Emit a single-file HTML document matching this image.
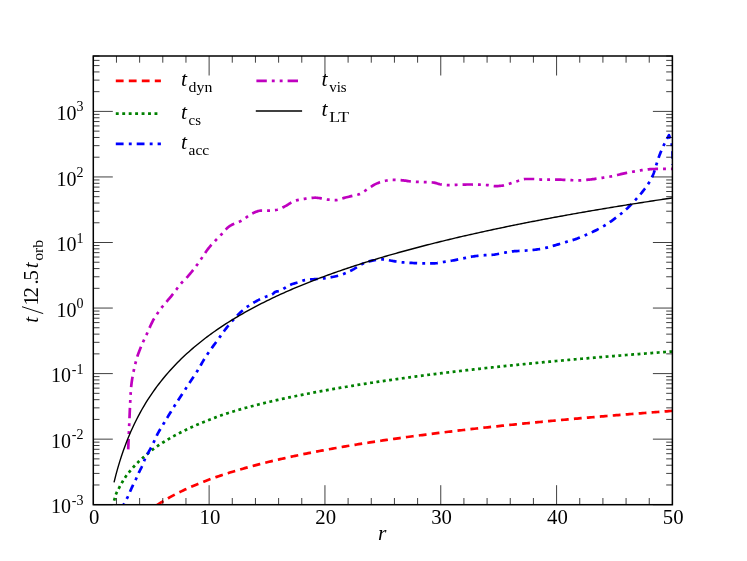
<!DOCTYPE html>
<html><head><meta charset="utf-8"><title>timescales</title>
<style>
html,body{margin:0;padding:0;background:#fff;}
svg{display:block;will-change:transform;}
text{font-family:"Liberation Serif",serif;fill:#000;}
</style></head>
<body>
<svg width="747" height="561" viewBox="0 0 747 561">
<rect width="747" height="561" fill="#fff"/>
<defs><clipPath id="c"><rect x="93.3" y="56.0" width="579.1" height="448.7"/></clipPath></defs>
<g clip-path="url(#c)" fill="none" stroke-linejoin="round">
<path d="M114.03 553.06 L115.90 549.38 L117.77 545.99 L119.63 542.85 L121.50 539.92 L123.37 537.19 L125.24 534.61 L127.10 532.19 L128.97 529.89 L130.84 527.71 L132.71 525.64 L134.57 523.66 L136.44 521.77 L138.31 519.96 L140.18 518.23 L142.04 516.56 L143.91 514.95 L145.78 513.40 L147.65 511.91 L149.51 510.47 L151.38 509.07 L153.25 507.72 L155.12 506.41 L156.98 505.14 L158.85 503.91 L160.72 502.71 L162.59 501.54 L164.45 500.40 L166.32 499.30 L168.19 498.22 L170.06 497.17 L171.92 496.14 L173.79 495.14 L175.66 494.16 L177.53 493.20 L179.39 492.27 L181.26 491.35 L183.13 490.45 L184.99 489.57 L186.86 488.71 L188.73 487.87 L190.60 487.04 L192.46 486.23 L194.33 485.43 L196.20 484.65 L198.07 483.88 L199.93 483.13 L201.80 482.39 L203.67 481.66 L205.54 480.94 L207.40 480.24 L209.27 479.54 L211.14 478.86 L213.01 478.19 L214.87 477.53 L216.74 476.88 L218.61 476.24 L220.48 475.61 L222.34 474.98 L224.21 474.37 L226.08 473.76 L227.95 473.17 L229.81 472.58 L231.68 472.00 L233.55 471.43 L235.42 470.86 L237.28 470.31 L239.15 469.76 L241.02 469.21 L242.89 468.68 L244.75 468.15 L246.62 467.62 L248.49 467.11 L250.36 466.59 L252.22 466.09 L254.09 465.59 L255.96 465.10 L257.83 464.61 L259.69 464.13 L261.56 463.65 L263.43 463.18 L265.30 462.71 L267.16 462.25 L269.03 461.80 L270.90 461.35 L272.77 460.90 L274.63 460.46 L276.50 460.02 L278.37 459.59 L280.24 459.16 L282.10 458.73 L283.97 458.31 L285.84 457.90 L287.70 457.48 L289.57 457.08 L291.44 456.67 L293.31 456.27 L295.17 455.87 L297.04 455.48 L298.91 455.09 L300.78 454.71 L302.64 454.32 L304.51 453.94 L306.38 453.57 L308.25 453.19 L310.11 452.83 L311.98 452.46 L313.85 452.10 L315.72 451.74 L317.58 451.38 L319.45 451.03 L321.32 450.67 L323.19 450.33 L325.05 449.98 L326.92 449.64 L328.79 449.30 L330.66 448.96 L332.52 448.63 L334.39 448.29 L336.26 447.96 L338.13 447.64 L339.99 447.31 L341.86 446.99 L343.73 446.67 L345.60 446.35 L347.46 446.04 L349.33 445.73 L351.20 445.42 L353.07 445.11 L354.93 444.80 L356.80 444.50 L358.67 444.20 L360.54 443.90 L362.40 443.60 L364.27 443.30 L366.14 443.01 L368.01 442.72 L369.87 442.43 L371.74 442.14 L373.61 441.86 L375.48 441.57 L377.34 441.29 L379.21 441.01 L381.08 440.73 L382.94 440.46 L384.81 440.18 L386.68 439.91 L388.55 439.64 L390.41 439.37 L392.28 439.10 L394.15 438.84 L396.02 438.57 L397.88 438.31 L399.75 438.05 L401.62 437.79 L403.49 437.53 L405.35 437.28 L407.22 437.02 L409.09 436.77 L410.96 436.52 L412.82 436.27 L414.69 436.02 L416.56 435.77 L418.43 435.52 L420.29 435.28 L422.16 435.04 L424.03 434.79 L425.90 434.55 L427.76 434.31 L429.63 434.08 L431.50 433.84 L433.37 433.61 L435.23 433.37 L437.10 433.14 L438.97 432.91 L440.84 432.68 L442.70 432.45 L444.57 432.22 L446.44 431.99 L448.31 431.77 L450.17 431.55 L452.04 431.32 L453.91 431.10 L455.78 430.88 L457.64 430.66 L459.51 430.44 L461.38 430.23 L463.25 430.01 L465.11 429.79 L466.98 429.58 L468.85 429.37 L470.72 429.16 L472.58 428.94 L474.45 428.73 L476.32 428.53 L478.18 428.32 L480.05 428.11 L481.92 427.91 L483.79 427.70 L485.65 427.50 L487.52 427.29 L489.39 427.09 L491.26 426.89 L493.12 426.69 L494.99 426.49 L496.86 426.30 L498.73 426.10 L500.59 425.90 L502.46 425.71 L504.33 425.51 L506.20 425.32 L508.06 425.13 L509.93 424.93 L511.80 424.74 L513.67 424.55 L515.53 424.36 L517.40 424.18 L519.27 423.99 L521.14 423.80 L523.00 423.61 L524.87 423.43 L526.74 423.25 L528.61 423.06 L530.47 422.88 L532.34 422.70 L534.21 422.52 L536.08 422.34 L537.94 422.16 L539.81 421.98 L541.68 421.80 L543.55 421.62 L545.41 421.44 L547.28 421.27 L549.15 421.09 L551.02 420.92 L552.88 420.74 L554.75 420.57 L556.62 420.40 L558.49 420.23 L560.35 420.06 L562.22 419.89 L564.09 419.72 L565.96 419.55 L567.82 419.38 L569.69 419.21 L571.56 419.04 L573.43 418.88 L575.29 418.71 L577.16 418.55 L579.03 418.38 L580.89 418.22 L582.76 418.05 L584.63 417.89 L586.50 417.73 L588.36 417.57 L590.23 417.41 L592.10 417.25 L593.97 417.09 L595.83 416.93 L597.70 416.77 L599.57 416.61 L601.44 416.46 L603.30 416.30 L605.17 416.14 L607.04 415.99 L608.91 415.83 L610.77 415.68 L612.64 415.52 L614.51 415.37 L616.38 415.22 L618.24 415.07 L620.11 414.91 L621.98 414.76 L623.85 414.61 L625.71 414.46 L627.58 414.31 L629.45 414.16 L631.32 414.02 L633.18 413.87 L635.05 413.72 L636.92 413.57 L638.79 413.43 L640.65 413.28 L642.52 413.14 L644.39 412.99 L646.26 412.85 L648.12 412.70 L649.99 412.56 L651.86 412.42 L653.73 412.27 L655.59 412.13 L657.46 411.99 L659.33 411.85 L661.20 411.71 L663.06 411.57 L664.93 411.43 L666.80 411.29 L668.67 411.15 L670.53 411.01 L672.40 410.87" stroke="#ff0000" stroke-width="2.7" stroke-dasharray="7.8 5.2"/>
<path d="M114.05 500.70 L114.40 499.55 L115.80 494.59 L117.20 491.43 L118.60 488.79 L120.00 486.20 L121.39 483.65 L122.79 481.21 L124.19 478.84 L125.59 476.68 L126.99 474.79 L128.39 473.00 L129.79 471.29 L131.18 469.64 L132.58 468.04 L133.98 466.49 L135.38 464.98 L136.78 463.51 L138.18 462.10 L139.58 460.76 L140.97 459.46 L142.37 458.21 L143.77 456.97 L145.17 455.75 L146.57 454.55 L147.97 453.37 L149.36 452.21 L150.76 451.08 L152.16 449.99 L153.56 448.93 L154.96 447.91 L156.36 446.91 L157.76 445.93 L159.15 444.98 L160.55 444.04 L161.95 443.13 L163.35 442.24 L164.75 441.36 L166.15 440.50 L167.55 439.66 L168.94 438.83 L170.34 438.02 L171.74 437.22 L173.14 436.44 L174.54 435.66 L175.94 434.90 L177.33 434.16 L178.73 433.42 L180.13 432.70 L181.53 431.99 L182.93 431.29 L184.33 430.60 L185.73 429.92 L187.12 429.25 L188.52 428.59 L189.92 427.94 L191.32 427.30 L192.72 426.67 L194.12 426.05 L195.51 425.43 L196.91 424.83 L198.31 424.23 L199.71 423.65 L201.11 423.07 L202.51 422.50 L203.91 421.94 L205.30 421.38 L206.70 420.83 L208.10 420.29 L209.50 419.75 L210.90 419.22 L212.30 418.68 L213.70 418.15 L215.09 417.63 L216.49 417.10 L217.89 416.58 L219.29 416.07 L220.69 415.56 L222.09 415.06 L223.48 414.57 L224.88 414.09 L226.28 413.62 L227.68 413.16 L229.08 412.72 L230.48 412.28 L231.88 411.85 L233.27 411.42 L234.67 411.00 L236.07 410.59 L237.47 410.18 L238.87 409.77 L240.27 409.37 L241.67 408.98 L243.06 408.59 L244.46 408.20 L245.86 407.82 L247.26 407.44 L248.66 407.06 L250.06 406.69 L251.45 406.32 L252.85 405.95 L254.25 405.58 L255.65 405.22 L257.05 404.87 L258.45 404.51 L259.85 404.16 L261.24 403.81 L262.64 403.47 L264.04 403.12 L265.44 402.78 L266.84 402.45 L268.24 402.12 L269.63 401.79 L271.03 401.46 L272.43 401.13 L273.83 400.81 L275.23 400.49 L276.63 400.18 L278.03 399.86 L279.42 399.55 L280.82 399.24 L282.22 398.93 L283.62 398.63 L285.02 398.33 L286.42 398.03 L287.82 397.73 L289.21 397.43 L290.61 397.14 L292.01 396.85 L293.41 396.56 L294.81 396.27 L296.21 395.99 L297.60 395.70 L299.00 395.42 L300.40 395.14 L301.80 394.87 L303.20 394.59 L304.60 394.31 L306.00 394.04 L307.39 393.77 L308.79 393.50 L310.19 393.23 L311.59 392.97 L312.99 392.70 L314.39 392.44 L315.78 392.18 L317.18 391.91 L318.58 391.66 L319.98 391.40 L321.38 391.14 L322.78 390.88 L324.18 390.63 L325.57 390.38 L326.97 390.12 L328.37 389.87 L329.77 389.62 L331.17 389.38 L332.57 389.13 L333.97 388.88 L335.36 388.64 L336.76 388.40 L338.16 388.15 L339.56 387.91 L340.96 387.68 L342.36 387.44 L343.75 387.20 L345.15 386.97 L346.55 386.73 L347.95 386.50 L349.35 386.27 L350.75 386.04 L352.15 385.81 L353.54 385.58 L354.94 385.36 L356.34 385.13 L357.74 384.91 L359.14 384.69 L360.54 384.46 L361.94 384.24 L363.33 384.02 L364.73 383.81 L366.13 383.59 L367.53 383.37 L368.93 383.16 L370.33 382.94 L371.72 382.73 L373.12 382.52 L374.52 382.31 L375.92 382.10 L377.32 381.89 L378.72 381.68 L380.12 381.47 L381.51 381.27 L382.91 381.06 L384.31 380.86 L385.71 380.65 L387.11 380.45 L388.51 380.25 L389.90 380.05 L391.30 379.85 L392.70 379.65 L394.10 379.45 L395.50 379.25 L396.90 379.05 L398.30 378.86 L399.69 378.66 L401.09 378.47 L402.49 378.27 L403.89 378.08 L405.29 377.89 L406.69 377.70 L408.09 377.51 L409.48 377.32 L410.88 377.13 L412.28 376.94 L413.68 376.76 L415.08 376.57 L416.48 376.39 L417.87 376.20 L419.27 376.02 L420.67 375.83 L422.07 375.65 L423.47 375.47 L424.87 375.29 L426.27 375.11 L427.66 374.93 L429.06 374.75 L430.46 374.58 L431.86 374.40 L433.26 374.22 L434.66 374.05 L436.06 373.87 L437.45 373.70 L438.85 373.53 L440.25 373.35 L441.65 373.18 L443.05 373.01 L444.45 372.84 L445.84 372.67 L447.24 372.50 L448.64 372.33 L450.04 372.17 L451.44 372.00 L452.84 371.83 L454.24 371.67 L455.63 371.50 L457.03 371.34 L458.43 371.17 L459.83 371.01 L461.23 370.85 L462.63 370.69 L464.02 370.52 L465.42 370.36 L466.82 370.20 L468.22 370.04 L469.62 369.88 L471.02 369.73 L472.42 369.57 L473.81 369.41 L475.21 369.25 L476.61 369.10 L478.01 368.94 L479.41 368.79 L480.81 368.63 L482.21 368.48 L483.60 368.33 L485.00 368.17 L486.40 368.02 L487.80 367.87 L489.20 367.72 L490.60 367.57 L491.99 367.42 L493.39 367.27 L494.79 367.12 L496.19 366.97 L497.59 366.82 L498.99 366.68 L500.39 366.53 L501.78 366.38 L503.18 366.24 L504.58 366.09 L505.98 365.95 L507.38 365.80 L508.78 365.66 L510.18 365.51 L511.57 365.37 L512.97 365.23 L514.37 365.09 L515.77 364.94 L517.17 364.80 L518.57 364.66 L519.96 364.52 L521.36 364.38 L522.76 364.24 L524.16 364.10 L525.56 363.97 L526.96 363.83 L528.36 363.69 L529.75 363.55 L531.15 363.42 L532.55 363.28 L533.95 363.15 L535.35 363.01 L536.75 362.88 L538.14 362.74 L539.54 362.61 L540.94 362.47 L542.34 362.34 L543.74 362.21 L545.14 362.07 L546.54 361.94 L547.93 361.81 L549.33 361.68 L550.73 361.55 L552.13 361.42 L553.53 361.29 L554.93 361.16 L556.33 361.03 L557.72 360.90 L559.12 360.77 L560.52 360.65 L561.92 360.52 L563.32 360.39 L564.72 360.26 L566.11 360.14 L567.51 360.01 L568.91 359.89 L570.31 359.76 L571.71 359.63 L573.11 359.51 L574.51 359.39 L575.90 359.26 L577.30 359.14 L578.70 359.02 L580.10 358.89 L581.50 358.77 L582.90 358.65 L584.30 358.53 L585.69 358.40 L587.09 358.28 L588.49 358.16 L589.89 358.04 L591.29 357.92 L592.69 357.80 L594.08 357.68 L595.48 357.56 L596.88 357.45 L598.28 357.33 L599.68 357.21 L601.08 357.09 L602.48 356.97 L603.87 356.86 L605.27 356.74 L606.67 356.62 L608.07 356.51 L609.47 356.39 L610.87 356.28 L612.26 356.16 L613.66 356.05 L615.06 355.93 L616.46 355.82 L617.86 355.70 L619.26 355.59 L620.66 355.48 L622.05 355.36 L623.45 355.25 L624.85 355.14 L626.25 355.02 L627.65 354.91 L629.05 354.80 L630.45 354.69 L631.84 354.58 L633.24 354.47 L634.64 354.36 L636.04 354.25 L637.44 354.14 L638.84 354.03 L640.23 353.92 L641.63 353.81 L643.03 353.70 L644.43 353.59 L645.83 353.48 L647.23 353.38 L648.63 353.27 L650.02 353.16 L651.42 353.05 L652.82 352.95 L654.22 352.84 L655.62 352.73 L657.02 352.63 L658.42 352.52 L659.81 352.42 L661.21 352.31 L662.61 352.21 L664.01 352.10 L665.41 352.00 L666.81 351.89 L668.20 351.79 L669.60 351.68 L671.00 351.58 L672.40 351.48" stroke="#008000" stroke-width="2.7" stroke-dasharray="2.9 3.506"/>
<path d="M123.60 504.80 L124.14 503.72 L124.71 502.66 L125.29 501.60 L125.87 500.55 L126.44 499.49 L126.99 498.41 L127.52 497.33 L128.02 496.24 L128.51 495.13 L128.99 494.03 L129.47 492.92 L129.96 491.82 L130.45 490.72 L130.94 489.62 L131.43 488.52 L131.92 487.41 L132.42 486.32 L132.92 485.22 L133.43 484.13 L133.96 483.05 L134.51 481.97 L135.06 480.90 L135.60 479.83 L136.13 478.74 L136.63 477.65 L137.12 476.55 L137.61 475.44 L138.10 474.34 L138.59 473.24 L139.11 472.15 L139.65 471.07 L140.19 470.00 L140.74 468.92 L141.28 467.85 L141.80 466.76 L142.29 465.66 L142.74 464.54 L143.18 463.42 L143.61 462.29 L144.05 461.17 L144.52 460.06 L145.02 458.97 L145.55 457.88 L146.09 456.81 L146.65 455.74 L147.21 454.67 L147.76 453.60 L148.33 452.54 L148.91 451.48 L149.49 450.42 L150.08 449.37 L150.65 448.31 L151.22 447.25 L151.77 446.17 L152.31 445.10 L152.84 444.01 L153.37 442.93 L153.89 441.84 L154.40 440.75 L154.91 439.66 L155.40 438.56 L155.90 437.46 L156.40 436.36 L156.91 435.27 L157.45 434.20 L158.01 433.14 L158.59 432.08 L159.19 431.03 L159.80 429.99 L160.41 428.96 L161.04 427.92 L161.66 426.89 L162.30 425.86 L162.93 424.83 L163.55 423.80 L164.18 422.77 L164.80 421.74 L165.42 420.71 L166.04 419.68 L166.67 418.64 L167.29 417.61 L167.92 416.58 L168.55 415.56 L169.18 414.53 L169.81 413.50 L170.44 412.48 L171.08 411.45 L171.71 410.43 L172.35 409.40 L172.99 408.38 L173.63 407.36 L174.27 406.34 L174.91 405.32 L175.56 404.30 L176.21 403.29 L176.86 402.27 L177.51 401.26 L178.16 400.25 L178.82 399.24 L179.48 398.23 L180.13 397.22 L180.79 396.21 L181.45 395.20 L182.11 394.19 L182.77 393.18 L183.43 392.17 L184.10 391.17 L184.76 390.16 L185.42 389.15 L186.07 388.14 L186.73 387.13 L187.40 386.12 L188.06 385.12 L188.73 384.11 L189.40 383.11 L190.07 382.11 L190.74 381.11 L191.41 380.10 L192.07 379.10 L192.74 378.09 L193.40 377.09 L194.06 376.08 L194.72 375.07 L195.38 374.06 L196.03 373.04 L196.67 372.03 L197.31 371.01 L197.94 369.98 L198.56 368.95 L199.17 367.91 L199.78 366.86 L200.38 365.82 L200.98 364.77 L201.57 363.72 L202.17 362.67 L202.78 361.63 L203.38 360.59 L204.00 359.55 L204.63 358.53 L205.27 357.51 L205.92 356.50 L206.58 355.49 L207.25 354.49 L207.92 353.50 L208.61 352.50 L209.30 351.51 L209.99 350.53 L210.69 349.55 L211.39 348.57 L212.10 347.59 L212.81 346.61 L213.52 345.64 L214.23 344.66 L214.95 343.69 L215.66 342.72 L216.37 341.74 L217.08 340.77 L217.79 339.80 L218.50 338.82 L219.21 337.84 L219.91 336.86 L220.61 335.88 L221.32 334.90 L222.03 333.92 L222.74 332.94 L223.45 331.96 L224.16 330.99 L224.89 330.03 L225.61 329.06 L226.35 328.11 L227.09 327.16 L227.83 326.22 L228.59 325.29 L229.36 324.37 L230.14 323.45 L230.92 322.54 L231.71 321.62 L232.50 320.71 L233.30 319.80 L234.11 318.90 L234.93 318.00 L235.75 317.11 L236.58 316.23 L237.42 315.35 L238.27 314.49 L239.13 313.64 L240.00 312.81 L240.87 311.99 L241.76 311.18 L242.66 310.39 L243.57 309.62 L244.50 308.87 L245.45 308.13 L246.43 307.41 L247.41 306.70 L248.40 306.01 L249.41 305.34 L250.42 304.67 L251.43 304.03 L252.45 303.39 L253.48 302.77 L254.53 302.16 L255.58 301.56 L256.64 300.98 L257.70 300.41 L258.77 299.86 L259.85 299.33 L260.94 298.81 L262.03 298.31 L263.14 297.81 L264.25 297.34 L265.36 296.89 L266.49 296.46 L267.65 296.08 L268.83 295.74 L269.99 295.39 L271.12 294.99 L272.18 294.50 L273.12 293.74 L274.02 292.84 L274.95 292.07 L276.00 291.66 L277.18 291.43 L278.41 291.24 L279.58 290.98 L280.66 290.54 L281.71 289.95 L282.74 289.29 L283.76 288.60 L284.80 287.96 L285.85 287.35 L286.89 286.73 L287.93 286.11 L288.98 285.52 L290.05 284.97 L291.14 284.50 L292.26 284.09 L293.40 283.72 L294.56 283.37 L295.73 283.05 L296.90 282.72 L298.06 282.38 L299.21 282.03 L300.35 281.62 L301.48 281.15 L302.61 280.69 L303.74 280.32 L304.90 280.10 L306.07 279.93 L307.25 279.77 L308.44 279.64 L309.63 279.52 L310.83 279.42 L312.04 279.32 L313.25 279.24 L314.46 279.15 L315.67 279.07 L316.89 278.99 L318.10 278.90 L319.31 278.81 L320.52 278.70 L321.72 278.58 L322.92 278.45 L324.11 278.29 L325.31 278.13 L326.51 277.96 L327.70 277.78 L328.90 277.59 L330.10 277.39 L331.29 277.18 L332.48 276.96 L333.67 276.73 L334.85 276.48 L336.03 276.22 L337.20 275.95 L338.36 275.67 L339.51 275.37 L340.65 275.04 L341.79 274.67 L342.92 274.26 L344.04 273.81 L345.16 273.34 L346.27 272.85 L347.38 272.34 L348.47 271.82 L349.57 271.29 L350.65 270.76 L351.73 270.24 L352.79 269.67 L353.84 269.06 L354.87 268.43 L355.89 267.77 L356.92 267.10 L357.94 266.43 L358.96 265.78 L359.99 265.16 L361.04 264.56 L362.10 264.02 L363.18 263.53 L364.28 263.09 L365.40 262.67 L366.54 262.25 L367.69 261.85 L368.85 261.48 L370.02 261.15 L371.20 260.85 L372.38 260.59 L373.55 260.39 L374.74 260.22 L375.93 260.04 L377.13 259.88 L378.33 259.74 L379.54 259.61 L380.75 259.51 L381.95 259.44 L383.15 259.40 L384.34 259.42 L385.53 259.53 L386.72 259.70 L387.91 259.93 L389.10 260.20 L390.28 260.46 L391.47 260.72 L392.66 260.94 L393.85 261.13 L395.04 261.32 L396.23 261.51 L397.42 261.70 L398.62 261.88 L399.81 262.05 L401.01 262.20 L402.20 262.33 L403.40 262.43 L404.60 262.52 L405.80 262.61 L407.00 262.68 L408.21 262.75 L409.41 262.82 L410.62 262.88 L411.82 262.94 L413.03 263.00 L414.23 263.06 L415.43 263.12 L416.64 263.19 L417.84 263.25 L419.05 263.30 L420.25 263.35 L421.46 263.38 L422.66 263.40 L423.87 263.40 L425.07 263.40 L426.28 263.40 L427.49 263.40 L428.69 263.40 L429.90 263.40 L431.10 263.40 L432.31 263.40 L433.51 263.40 L434.70 263.34 L435.90 263.23 L437.09 263.07 L438.29 262.87 L439.48 262.66 L440.67 262.43 L441.86 262.22 L443.05 262.02 L444.24 261.84 L445.44 261.66 L446.63 261.48 L447.82 261.29 L449.01 261.11 L450.20 260.91 L451.39 260.71 L452.58 260.51 L453.76 260.30 L454.95 260.08 L456.13 259.85 L457.31 259.62 L458.49 259.38 L459.67 259.14 L460.86 258.89 L462.04 258.65 L463.22 258.42 L464.40 258.17 L465.58 257.92 L466.76 257.66 L467.94 257.41 L469.12 257.15 L470.30 256.91 L471.48 256.69 L472.67 256.49 L473.86 256.32 L475.05 256.16 L476.25 256.01 L477.44 255.87 L478.64 255.74 L479.84 255.61 L481.05 255.50 L482.25 255.39 L483.45 255.30 L484.65 255.21 L485.85 255.14 L487.06 255.08 L488.27 255.02 L489.47 254.96 L490.68 254.90 L491.88 254.82 L493.07 254.73 L494.27 254.61 L495.46 254.44 L496.64 254.24 L497.83 254.01 L499.01 253.77 L500.20 253.52 L501.38 253.28 L502.57 253.05 L503.75 252.84 L504.94 252.63 L506.13 252.41 L507.32 252.20 L508.51 251.99 L509.70 251.79 L510.89 251.61 L512.08 251.45 L513.28 251.32 L514.47 251.22 L515.67 251.14 L516.88 251.06 L518.08 251.00 L519.28 250.94 L520.49 250.88 L521.69 250.81 L522.90 250.74 L524.10 250.66 L525.30 250.58 L526.51 250.49 L527.71 250.41 L528.91 250.32 L530.11 250.22 L531.32 250.12 L532.51 250.01 L533.71 249.89 L534.91 249.76 L536.11 249.61 L537.30 249.45 L538.50 249.27 L539.69 249.08 L540.88 248.88 L542.06 248.67 L543.25 248.45 L544.42 248.21 L545.59 247.94 L546.76 247.65 L547.93 247.34 L549.09 247.01 L550.25 246.68 L551.41 246.34 L552.57 246.00 L553.73 245.66 L554.89 245.33 L556.05 245.00 L557.20 244.67 L558.36 244.33 L559.52 243.98 L560.67 243.63 L561.82 243.29 L562.98 242.94 L564.13 242.59 L565.29 242.24 L566.44 241.90 L567.60 241.57 L568.76 241.24 L569.92 240.90 L571.08 240.57 L572.23 240.22 L573.38 239.86 L574.53 239.49 L575.67 239.10 L576.80 238.70 L577.93 238.28 L579.05 237.84 L580.17 237.40 L581.29 236.94 L582.41 236.48 L583.52 236.01 L584.63 235.54 L585.74 235.07 L586.84 234.59 L587.95 234.11 L589.05 233.62 L590.15 233.12 L591.24 232.61 L592.33 232.10 L593.42 231.58 L594.50 231.05 L595.58 230.51 L596.65 229.96 L597.72 229.41 L598.79 228.85 L599.86 228.28 L600.92 227.70 L601.97 227.11 L603.01 226.51 L604.05 225.90 L605.08 225.27 L606.10 224.64 L607.11 223.99 L608.12 223.33 L609.12 222.65 L610.11 221.96 L611.10 221.27 L612.08 220.56 L613.06 219.86 L614.03 219.14 L615.00 218.42 L615.96 217.71 L616.93 216.98 L617.89 216.25 L618.85 215.52 L619.80 214.78 L620.75 214.03 L621.69 213.27 L622.62 212.51 L623.54 211.73 L624.46 210.95 L625.35 210.15 L626.24 209.34 L627.12 208.52 L627.98 207.68 L628.84 206.83 L629.69 205.97 L630.54 205.11 L631.37 204.24 L632.20 203.36 L633.03 202.49 L633.86 201.61 L634.68 200.73 L635.51 199.85 L636.32 198.96 L637.14 198.07 L637.94 197.17 L638.74 196.26 L639.53 195.35 L640.31 194.43 L641.07 193.51 L641.83 192.57 L642.58 191.63 L643.33 190.68 L644.08 189.73 L644.82 188.77 L645.56 187.81 L646.27 186.83 L646.98 185.85 L647.66 184.86 L648.32 183.85 L648.96 182.84 L649.57 181.81 L650.16 180.77 L650.74 179.71 L651.30 178.64 L651.84 177.55 L652.36 176.45 L652.85 175.35 L653.31 174.24 L653.73 173.12 L654.12 171.99 L654.49 170.84 L654.85 169.69 L655.19 168.53 L655.53 167.37 L655.87 166.21 L656.23 165.05 L656.60 163.91 L656.97 162.76 L657.35 161.61 L657.72 160.47 L658.10 159.32 L658.49 158.18 L658.88 157.04 L659.28 155.90 L659.69 154.77 L660.12 153.65 L660.56 152.53 L661.01 151.41 L661.48 150.30 L661.95 149.19 L662.44 148.09 L662.94 146.99 L663.44 145.89 L663.96 144.80 L664.48 143.72 L665.01 142.64 L665.55 141.56 L666.10 140.49 L666.66 139.42 L667.23 138.36 L667.81 137.30 L668.40 136.25 L669.00 135.20 L670.90 140.00 L671.90 145.50 L672.50 152.00 L672.70 165.00" stroke="#0000ff" stroke-width="2.7" stroke-dasharray="7.73 5.13 2.9 4.93" stroke-dashoffset="6.2"/>
<path d="M128.20 449.40 L128.25 448.21 L128.29 447.03 L128.34 445.84 L128.38 444.66 L128.43 443.47 L128.48 442.29 L128.53 441.10 L128.57 439.91 L128.62 438.73 L128.67 437.54 L128.72 436.36 L128.77 435.17 L128.82 433.99 L128.87 432.80 L128.92 431.61 L128.97 430.43 L129.02 429.24 L129.07 428.06 L129.12 426.87 L129.17 425.69 L129.22 424.50 L129.27 423.32 L129.32 422.13 L129.37 420.94 L129.42 419.76 L129.47 418.57 L129.52 417.39 L129.57 416.20 L129.62 415.02 L129.67 413.83 L129.72 412.64 L129.77 411.46 L129.82 410.27 L129.88 409.09 L129.93 407.90 L129.98 406.72 L130.04 405.53 L130.09 404.34 L130.15 403.16 L130.21 401.97 L130.27 400.79 L130.33 399.60 L130.39 398.42 L130.45 397.23 L130.52 396.05 L130.59 394.87 L130.66 393.68 L130.73 392.50 L130.81 391.31 L130.89 390.13 L130.98 388.94 L131.07 387.76 L131.18 386.58 L131.30 385.40 L131.44 384.23 L131.58 383.05 L131.74 381.87 L131.91 380.70 L132.09 379.52 L132.28 378.35 L132.48 377.17 L132.68 376.00 L132.90 374.83 L133.13 373.66 L133.36 372.49 L133.60 371.32 L133.85 370.15 L134.10 368.99 L134.36 367.83 L134.63 366.67 L134.90 365.51 L135.18 364.36 L135.46 363.21 L135.75 362.07 L136.04 360.92 L136.34 359.78 L136.65 358.65 L137.00 357.52 L137.36 356.39 L137.74 355.26 L138.14 354.14 L138.55 353.03 L138.97 351.91 L139.40 350.80 L139.84 349.69 L140.28 348.58 L140.72 347.48 L141.17 346.38 L141.62 345.29 L142.08 344.20 L142.56 343.11 L143.04 342.03 L143.54 340.95 L144.04 339.88 L144.55 338.80 L145.06 337.73 L145.57 336.66 L146.08 335.58 L146.59 334.51 L147.09 333.43 L147.58 332.35 L148.07 331.27 L148.55 330.18 L149.02 329.08 L149.50 327.99 L149.97 326.90 L150.45 325.81 L150.94 324.73 L151.45 323.65 L151.96 322.59 L152.49 321.53 L153.04 320.49 L153.61 319.46 L154.21 318.44 L154.82 317.43 L155.45 316.43 L156.10 315.43 L156.76 314.44 L157.43 313.45 L158.11 312.47 L158.80 311.50 L159.50 310.54 L160.20 309.58 L160.91 308.63 L161.62 307.68 L162.34 306.74 L163.08 305.81 L163.83 304.90 L164.59 303.99 L165.35 303.08 L166.13 302.18 L166.90 301.28 L167.68 300.38 L168.46 299.48 L169.23 298.58 L170.00 297.67 L170.76 296.76 L171.51 295.84 L172.25 294.91 L172.98 293.97 L173.70 293.03 L174.42 292.08 L175.14 291.13 L175.85 290.18 L176.57 289.23 L177.28 288.28 L178.00 287.33 L178.73 286.40 L179.47 285.47 L180.21 284.54 L180.97 283.64 L181.74 282.74 L182.53 281.86 L183.35 281.01 L184.21 280.18 L185.06 279.36 L185.91 278.52 L186.71 277.66 L187.50 276.78 L188.29 275.88 L189.06 274.99 L189.83 274.08 L190.58 273.17 L191.34 272.25 L192.08 271.32 L192.82 270.39 L193.56 269.45 L194.28 268.51 L195.01 267.57 L195.73 266.62 L196.44 265.68 L197.15 264.73 L197.86 263.78 L198.55 262.81 L199.23 261.84 L199.90 260.86 L200.56 259.87 L201.22 258.87 L201.87 257.88 L202.52 256.88 L203.17 255.88 L203.82 254.88 L204.47 253.89 L205.14 252.91 L205.81 251.93 L206.49 250.96 L207.19 250.01 L207.90 249.07 L208.63 248.14 L209.37 247.23 L210.13 246.32 L210.91 245.43 L211.69 244.54 L212.49 243.66 L213.29 242.79 L214.11 241.93 L214.93 241.06 L215.75 240.21 L216.58 239.35 L217.41 238.50 L218.25 237.65 L219.08 236.79 L219.91 235.94 L220.74 235.09 L221.56 234.24 L222.37 233.36 L223.18 232.46 L223.98 231.55 L224.78 230.63 L225.59 229.73 L226.41 228.86 L227.25 228.03 L228.12 227.25 L229.02 226.54 L229.96 225.90 L230.95 225.33 L231.98 224.80 L233.06 224.31 L234.16 223.84 L235.28 223.39 L236.41 222.95 L237.53 222.50 L238.65 222.04 L239.75 221.55 L240.82 221.03 L241.85 220.45 L242.84 219.82 L243.82 219.14 L244.78 218.44 L245.76 217.76 L246.75 217.10 L247.73 216.42 L248.72 215.73 L249.71 215.05 L250.71 214.41 L251.73 213.82 L252.78 213.30 L253.85 212.82 L254.95 212.33 L256.06 211.85 L257.20 211.40 L258.35 211.03 L259.50 210.75 L260.66 210.61 L261.82 210.60 L263.00 210.60 L264.18 210.60 L265.38 210.60 L266.57 210.60 L267.77 210.60 L268.96 210.60 L270.14 210.58 L271.34 210.52 L272.54 210.42 L273.73 210.29 L274.91 210.14 L276.08 209.97 L277.22 209.78 L278.34 209.51 L279.44 209.12 L280.53 208.65 L281.61 208.11 L282.68 207.53 L283.75 206.95 L284.81 206.39 L285.87 205.86 L286.91 205.27 L287.94 204.64 L288.96 203.98 L289.98 203.33 L291.00 202.69 L292.03 202.09 L293.07 201.55 L294.13 201.07 L295.22 200.69 L296.33 200.38 L297.47 200.09 L298.62 199.82 L299.79 199.58 L300.97 199.36 L302.16 199.15 L303.34 198.96 L304.52 198.79 L305.70 198.63 L306.87 198.47 L308.05 198.31 L309.23 198.16 L310.42 198.01 L311.60 197.89 L312.78 197.79 L313.97 197.73 L315.15 197.70 L316.33 197.73 L317.50 197.82 L318.68 197.97 L319.86 198.14 L321.04 198.34 L322.21 198.53 L323.39 198.71 L324.56 198.91 L325.73 199.13 L326.90 199.36 L328.07 199.55 L329.24 199.69 L330.42 199.79 L331.61 199.89 L332.81 199.97 L334.00 200.04 L335.18 200.08 L336.35 200.10 L337.51 200.01 L338.65 199.75 L339.79 199.38 L340.92 198.95 L342.06 198.53 L343.20 198.16 L344.34 197.85 L345.49 197.56 L346.64 197.27 L347.80 196.98 L348.95 196.70 L350.10 196.42 L351.25 196.14 L352.41 195.86 L353.59 195.60 L354.76 195.35 L355.93 195.10 L357.09 194.82 L358.23 194.51 L359.33 194.16 L360.39 193.73 L361.43 193.20 L362.44 192.59 L363.44 191.93 L364.42 191.23 L365.41 190.52 L366.39 189.83 L367.39 189.17 L368.39 188.53 L369.39 187.86 L370.38 187.19 L371.37 186.52 L372.36 185.87 L373.37 185.24 L374.39 184.66 L375.44 184.13 L376.51 183.63 L377.59 183.14 L378.70 182.67 L379.81 182.23 L380.94 181.83 L382.07 181.48 L383.22 181.18 L384.36 180.94 L385.52 180.71 L386.69 180.49 L387.87 180.28 L389.05 180.10 L390.24 179.95 L391.42 179.85 L392.61 179.80 L393.79 179.81 L394.97 179.84 L396.15 179.89 L397.34 179.95 L398.53 180.04 L399.71 180.13 L400.90 180.22 L402.08 180.32 L403.26 180.42 L404.44 180.55 L405.62 180.70 L406.80 180.88 L407.97 181.06 L409.15 181.25 L410.32 181.42 L411.50 181.56 L412.68 181.67 L413.86 181.74 L415.04 181.80 L416.23 181.86 L417.41 181.90 L418.60 181.94 L419.79 181.98 L420.98 182.02 L422.16 182.06 L423.35 182.11 L424.54 182.15 L425.73 182.19 L426.92 182.22 L428.11 182.26 L429.30 182.30 L430.48 182.35 L431.66 182.41 L432.84 182.48 L434.00 182.59 L435.16 182.84 L436.30 183.16 L437.45 183.54 L438.59 183.91 L439.74 184.23 L440.90 184.46 L442.07 184.60 L443.25 184.73 L444.43 184.85 L445.61 184.95 L446.80 185.03 L447.99 185.08 L449.18 185.10 L450.36 185.09 L451.55 185.06 L452.73 185.01 L453.92 184.95 L455.11 184.89 L456.29 184.82 L457.48 184.77 L458.66 184.72 L459.85 184.69 L461.04 184.65 L462.22 184.62 L463.41 184.59 L464.60 184.56 L465.78 184.54 L466.97 184.52 L468.15 184.50 L469.34 184.50 L470.53 184.50 L471.71 184.52 L472.90 184.54 L474.09 184.56 L475.27 184.59 L476.46 184.62 L477.65 184.65 L478.83 184.69 L480.02 184.72 L481.21 184.76 L482.39 184.81 L483.58 184.87 L484.76 184.93 L485.95 185.00 L487.13 185.08 L488.31 185.19 L489.49 185.35 L490.67 185.54 L491.84 185.74 L493.02 185.92 L494.19 186.05 L495.37 186.10 L496.56 186.08 L497.75 186.03 L498.94 185.96 L500.13 185.86 L501.31 185.74 L502.49 185.61 L503.65 185.47 L504.80 185.23 L505.94 184.91 L507.08 184.53 L508.21 184.13 L509.34 183.75 L510.47 183.39 L511.60 183.02 L512.72 182.64 L513.85 182.26 L514.97 181.89 L516.10 181.52 L517.24 181.18 L518.38 180.83 L519.51 180.44 L520.66 180.04 L521.80 179.66 L522.95 179.34 L524.10 179.11 L525.27 179.00 L526.44 179.00 L527.62 179.00 L528.80 179.00 L529.99 179.00 L531.19 179.00 L532.38 179.00 L533.57 179.00 L534.75 179.03 L535.94 179.10 L537.12 179.20 L538.30 179.32 L539.49 179.43 L540.67 179.53 L541.86 179.59 L543.04 179.60 L544.23 179.60 L545.41 179.60 L546.60 179.60 L547.79 179.60 L548.97 179.60 L550.16 179.60 L551.35 179.60 L552.54 179.60 L553.72 179.60 L554.91 179.60 L556.10 179.60 L557.28 179.60 L558.47 179.61 L559.65 179.65 L560.84 179.69 L562.02 179.75 L563.21 179.81 L564.40 179.88 L565.58 179.94 L566.77 179.99 L567.95 180.03 L569.14 180.08 L570.33 180.13 L571.51 180.19 L572.70 180.24 L573.88 180.29 L575.07 180.33 L576.26 180.36 L577.44 180.39 L578.63 180.40 L579.81 180.39 L581.00 180.35 L582.18 180.29 L583.36 180.20 L584.55 180.09 L585.73 179.97 L586.91 179.84 L588.09 179.71 L589.27 179.59 L590.45 179.47 L591.63 179.33 L592.81 179.19 L593.99 179.04 L595.16 178.88 L596.34 178.71 L597.51 178.54 L598.69 178.37 L599.86 178.20 L601.04 178.02 L602.21 177.85 L603.38 177.67 L604.56 177.50 L605.73 177.32 L606.91 177.13 L608.08 176.94 L609.25 176.74 L610.42 176.54 L611.58 176.33 L612.75 176.11 L613.91 175.88 L615.07 175.62 L616.22 175.35 L617.37 175.06 L618.53 174.77 L619.68 174.47 L620.83 174.18 L621.98 173.90 L623.14 173.64 L624.30 173.39 L625.46 173.14 L626.62 172.90 L627.78 172.66 L628.95 172.43 L630.11 172.21 L631.28 171.99 L632.45 171.77 L633.61 171.56 L634.78 171.36 L635.95 171.15 L637.12 170.95 L638.29 170.75 L639.46 170.56 L640.64 170.38 L641.81 170.21 L642.99 170.05 L644.16 169.90 L645.34 169.75 L646.52 169.59 L647.70 169.44 L648.88 169.30 L650.06 169.18 L651.25 169.09 L652.43 169.02 L653.61 169.00 L654.80 168.99 L655.98 168.97 L657.17 168.96 L658.35 168.95 L659.53 168.94 L660.72 168.94 L661.91 168.93 L663.09 168.92 L664.28 168.92 L665.47 168.91 L666.65 168.91 L667.84 168.91 L669.03 168.90 L670.22 168.90 L671.41 168.90 L672.60 168.90" stroke="#bf00bf" stroke-width="2.7" stroke-dasharray="10.4 5.0 2.9 5.0 2.9 5.0"/>
<path d="M114.03 482.30 L115.90 474.93 L117.77 468.15 L119.63 461.87 L121.50 456.02 L123.37 450.54 L125.24 445.40 L127.10 440.54 L128.97 435.95 L130.84 431.59 L132.71 427.45 L134.57 423.49 L136.44 419.71 L138.31 416.09 L140.18 412.62 L142.04 409.28 L143.91 406.07 L145.78 402.98 L147.65 399.99 L149.51 397.11 L151.38 394.32 L153.25 391.61 L155.12 388.99 L156.98 386.45 L158.85 383.98 L160.72 381.58 L162.59 379.25 L164.45 376.98 L166.32 374.77 L168.19 372.61 L170.06 370.51 L171.92 368.45 L173.79 366.45 L175.66 364.49 L177.53 362.58 L179.39 360.70 L181.26 358.87 L183.13 357.08 L184.99 355.32 L186.86 353.60 L188.73 351.91 L190.60 350.25 L192.46 348.63 L194.33 347.04 L196.20 345.47 L198.07 343.94 L199.93 342.43 L201.80 340.94 L203.67 339.49 L205.54 338.05 L207.40 336.64 L209.27 335.26 L211.14 333.89 L213.01 332.55 L214.87 331.23 L216.74 329.93 L218.61 328.64 L220.48 327.38 L222.34 326.14 L224.21 324.91 L226.08 323.70 L227.95 322.51 L229.81 321.33 L231.68 320.17 L233.55 319.03 L235.42 317.90 L237.28 316.78 L239.15 315.68 L241.02 314.59 L242.89 313.52 L244.75 312.46 L246.62 311.41 L248.49 310.38 L250.36 309.36 L252.22 308.35 L254.09 307.35 L255.96 306.37 L257.83 305.39 L259.69 304.43 L261.56 303.47 L263.43 302.53 L265.30 301.60 L267.16 300.68 L269.03 299.76 L270.90 298.86 L272.77 297.97 L274.63 297.08 L276.50 296.21 L278.37 295.34 L280.24 294.48 L282.10 293.64 L283.97 292.80 L285.84 291.96 L287.70 291.14 L289.57 290.32 L291.44 289.51 L293.31 288.71 L295.17 287.92 L297.04 287.13 L298.91 286.35 L300.78 285.58 L302.64 284.82 L304.51 284.06 L306.38 283.30 L308.25 282.56 L310.11 281.82 L311.98 281.09 L313.85 280.36 L315.72 279.64 L317.58 278.93 L319.45 278.22 L321.32 277.52 L323.19 276.82 L325.05 276.13 L326.92 275.44 L328.79 274.76 L330.66 274.09 L332.52 273.42 L334.39 272.76 L336.26 272.10 L338.13 271.44 L339.99 270.79 L341.86 270.15 L343.73 269.51 L345.60 268.88 L347.46 268.25 L349.33 267.62 L351.20 267.00 L353.07 266.38 L354.93 265.77 L356.80 265.17 L358.67 264.56 L360.54 263.96 L362.40 263.37 L364.27 262.78 L366.14 262.19 L368.01 261.61 L369.87 261.03 L371.74 260.46 L373.61 259.88 L375.48 259.32 L377.34 258.75 L379.21 258.19 L381.08 257.64 L382.94 257.09 L384.81 256.54 L386.68 255.99 L388.55 255.45 L390.41 254.91 L392.28 254.38 L394.15 253.84 L396.02 253.32 L397.88 252.79 L399.75 252.27 L401.62 251.75 L403.49 251.23 L405.35 250.72 L407.22 250.21 L409.09 249.71 L410.96 249.20 L412.82 248.70 L414.69 248.20 L416.56 247.71 L418.43 247.22 L420.29 246.73 L422.16 246.24 L424.03 245.76 L425.90 245.28 L427.76 244.80 L429.63 244.32 L431.50 243.85 L433.37 243.38 L435.23 242.91 L437.10 242.45 L438.97 241.98 L440.84 241.52 L442.70 241.07 L444.57 240.61 L446.44 240.16 L448.31 239.71 L450.17 239.26 L452.04 238.81 L453.91 238.37 L455.78 237.93 L457.64 237.49 L459.51 237.05 L461.38 236.62 L463.25 236.19 L465.11 235.76 L466.98 235.33 L468.85 234.90 L470.72 234.48 L472.58 234.06 L474.45 233.64 L476.32 233.22 L478.18 232.81 L480.05 232.39 L481.92 231.98 L483.79 231.57 L485.65 231.17 L487.52 230.76 L489.39 230.36 L491.26 229.95 L493.12 229.55 L494.99 229.16 L496.86 228.76 L498.73 228.37 L500.59 227.97 L502.46 227.58 L504.33 227.19 L506.20 226.81 L508.06 226.42 L509.93 226.04 L511.80 225.66 L513.67 225.28 L515.53 224.90 L517.40 224.52 L519.27 224.14 L521.14 223.77 L523.00 223.40 L524.87 223.03 L526.74 222.66 L528.61 222.29 L530.47 221.93 L532.34 221.56 L534.21 221.20 L536.08 220.84 L537.94 220.48 L539.81 220.12 L541.68 219.77 L543.55 219.41 L545.41 219.06 L547.28 218.71 L549.15 218.35 L551.02 218.01 L552.88 217.66 L554.75 217.31 L556.62 216.97 L558.49 216.62 L560.35 216.28 L562.22 215.94 L564.09 215.60 L565.96 215.26 L567.82 214.93 L569.69 214.59 L571.56 214.26 L573.43 213.92 L575.29 213.59 L577.16 213.26 L579.03 212.93 L580.89 212.61 L582.76 212.28 L584.63 211.95 L586.50 211.63 L588.36 211.31 L590.23 210.99 L592.10 210.66 L593.97 210.35 L595.83 210.03 L597.70 209.71 L599.57 209.40 L601.44 209.08 L603.30 208.77 L605.17 208.46 L607.04 208.14 L608.91 207.83 L610.77 207.53 L612.64 207.22 L614.51 206.91 L616.38 206.61 L618.24 206.30 L620.11 206.00 L621.98 205.70 L623.85 205.39 L625.71 205.09 L627.58 204.80 L629.45 204.50 L631.32 204.20 L633.18 203.90 L635.05 203.61 L636.92 203.32 L638.79 203.02 L640.65 202.73 L642.52 202.44 L644.39 202.15 L646.26 201.86 L648.12 201.57 L649.99 201.29 L651.86 201.00 L653.73 200.72 L655.59 200.43 L657.46 200.15 L659.33 199.87 L661.20 199.58 L663.06 199.30 L664.93 199.03 L666.80 198.75 L668.67 198.47 L670.53 198.19 L672.40 197.92" stroke="#000" stroke-width="1.4"/>
</g>
<g stroke="#000" stroke-width="0.75"><line x1="93.30" y1="504.70" x2="93.30" y2="485.20"/><line x1="93.30" y1="56.00" x2="93.30" y2="75.50"/><line x1="116.46" y1="504.70" x2="116.46" y2="498.00"/><line x1="116.46" y1="56.00" x2="116.46" y2="62.70"/><line x1="139.63" y1="504.70" x2="139.63" y2="498.00"/><line x1="139.63" y1="56.00" x2="139.63" y2="62.70"/><line x1="162.79" y1="504.70" x2="162.79" y2="498.00"/><line x1="162.79" y1="56.00" x2="162.79" y2="62.70"/><line x1="185.96" y1="504.70" x2="185.96" y2="498.00"/><line x1="185.96" y1="56.00" x2="185.96" y2="62.70"/><line x1="209.12" y1="504.70" x2="209.12" y2="485.20"/><line x1="209.12" y1="56.00" x2="209.12" y2="75.50"/><line x1="232.28" y1="504.70" x2="232.28" y2="498.00"/><line x1="232.28" y1="56.00" x2="232.28" y2="62.70"/><line x1="255.45" y1="504.70" x2="255.45" y2="498.00"/><line x1="255.45" y1="56.00" x2="255.45" y2="62.70"/><line x1="278.61" y1="504.70" x2="278.61" y2="498.00"/><line x1="278.61" y1="56.00" x2="278.61" y2="62.70"/><line x1="301.78" y1="504.70" x2="301.78" y2="498.00"/><line x1="301.78" y1="56.00" x2="301.78" y2="62.70"/><line x1="324.94" y1="504.70" x2="324.94" y2="485.20"/><line x1="324.94" y1="56.00" x2="324.94" y2="75.50"/><line x1="348.10" y1="504.70" x2="348.10" y2="498.00"/><line x1="348.10" y1="56.00" x2="348.10" y2="62.70"/><line x1="371.27" y1="504.70" x2="371.27" y2="498.00"/><line x1="371.27" y1="56.00" x2="371.27" y2="62.70"/><line x1="394.43" y1="504.70" x2="394.43" y2="498.00"/><line x1="394.43" y1="56.00" x2="394.43" y2="62.70"/><line x1="417.60" y1="504.70" x2="417.60" y2="498.00"/><line x1="417.60" y1="56.00" x2="417.60" y2="62.70"/><line x1="440.76" y1="504.70" x2="440.76" y2="485.20"/><line x1="440.76" y1="56.00" x2="440.76" y2="75.50"/><line x1="463.92" y1="504.70" x2="463.92" y2="498.00"/><line x1="463.92" y1="56.00" x2="463.92" y2="62.70"/><line x1="487.09" y1="504.70" x2="487.09" y2="498.00"/><line x1="487.09" y1="56.00" x2="487.09" y2="62.70"/><line x1="510.25" y1="504.70" x2="510.25" y2="498.00"/><line x1="510.25" y1="56.00" x2="510.25" y2="62.70"/><line x1="533.42" y1="504.70" x2="533.42" y2="498.00"/><line x1="533.42" y1="56.00" x2="533.42" y2="62.70"/><line x1="556.58" y1="504.70" x2="556.58" y2="485.20"/><line x1="556.58" y1="56.00" x2="556.58" y2="75.50"/><line x1="579.74" y1="504.70" x2="579.74" y2="498.00"/><line x1="579.74" y1="56.00" x2="579.74" y2="62.70"/><line x1="602.91" y1="504.70" x2="602.91" y2="498.00"/><line x1="602.91" y1="56.00" x2="602.91" y2="62.70"/><line x1="626.07" y1="504.70" x2="626.07" y2="498.00"/><line x1="626.07" y1="56.00" x2="626.07" y2="62.70"/><line x1="649.24" y1="504.70" x2="649.24" y2="498.00"/><line x1="649.24" y1="56.00" x2="649.24" y2="62.70"/><line x1="672.40" y1="504.70" x2="672.40" y2="485.20"/><line x1="672.40" y1="56.00" x2="672.40" y2="75.50"/><line x1="93.30" y1="504.70" x2="112.80" y2="504.70"/><line x1="672.40" y1="504.70" x2="652.90" y2="504.70"/><line x1="93.30" y1="484.97" x2="99.50" y2="484.97"/><line x1="672.40" y1="484.97" x2="666.20" y2="484.97"/><line x1="93.30" y1="473.42" x2="99.50" y2="473.42"/><line x1="672.40" y1="473.42" x2="666.20" y2="473.42"/><line x1="93.30" y1="465.23" x2="99.50" y2="465.23"/><line x1="672.40" y1="465.23" x2="666.20" y2="465.23"/><line x1="93.30" y1="458.88" x2="99.50" y2="458.88"/><line x1="672.40" y1="458.88" x2="666.20" y2="458.88"/><line x1="93.30" y1="453.69" x2="99.50" y2="453.69"/><line x1="672.40" y1="453.69" x2="666.20" y2="453.69"/><line x1="93.30" y1="449.30" x2="99.50" y2="449.30"/><line x1="672.40" y1="449.30" x2="666.20" y2="449.30"/><line x1="93.30" y1="445.50" x2="99.50" y2="445.50"/><line x1="672.40" y1="445.50" x2="666.20" y2="445.50"/><line x1="93.30" y1="442.15" x2="99.50" y2="442.15"/><line x1="672.40" y1="442.15" x2="666.20" y2="442.15"/><line x1="93.30" y1="439.15" x2="112.80" y2="439.15"/><line x1="672.40" y1="439.15" x2="652.90" y2="439.15"/><line x1="93.30" y1="419.42" x2="99.50" y2="419.42"/><line x1="672.40" y1="419.42" x2="666.20" y2="419.42"/><line x1="93.30" y1="407.87" x2="99.50" y2="407.87"/><line x1="672.40" y1="407.87" x2="666.20" y2="407.87"/><line x1="93.30" y1="399.68" x2="99.50" y2="399.68"/><line x1="672.40" y1="399.68" x2="666.20" y2="399.68"/><line x1="93.30" y1="393.33" x2="99.50" y2="393.33"/><line x1="672.40" y1="393.33" x2="666.20" y2="393.33"/><line x1="93.30" y1="388.14" x2="99.50" y2="388.14"/><line x1="672.40" y1="388.14" x2="666.20" y2="388.14"/><line x1="93.30" y1="383.75" x2="99.50" y2="383.75"/><line x1="672.40" y1="383.75" x2="666.20" y2="383.75"/><line x1="93.30" y1="379.95" x2="99.50" y2="379.95"/><line x1="672.40" y1="379.95" x2="666.20" y2="379.95"/><line x1="93.30" y1="376.60" x2="99.50" y2="376.60"/><line x1="672.40" y1="376.60" x2="666.20" y2="376.60"/><line x1="93.30" y1="373.60" x2="112.80" y2="373.60"/><line x1="672.40" y1="373.60" x2="652.90" y2="373.60"/><line x1="93.30" y1="353.87" x2="99.50" y2="353.87"/><line x1="672.40" y1="353.87" x2="666.20" y2="353.87"/><line x1="93.30" y1="342.32" x2="99.50" y2="342.32"/><line x1="672.40" y1="342.32" x2="666.20" y2="342.32"/><line x1="93.30" y1="334.13" x2="99.50" y2="334.13"/><line x1="672.40" y1="334.13" x2="666.20" y2="334.13"/><line x1="93.30" y1="327.78" x2="99.50" y2="327.78"/><line x1="672.40" y1="327.78" x2="666.20" y2="327.78"/><line x1="93.30" y1="322.59" x2="99.50" y2="322.59"/><line x1="672.40" y1="322.59" x2="666.20" y2="322.59"/><line x1="93.30" y1="318.20" x2="99.50" y2="318.20"/><line x1="672.40" y1="318.20" x2="666.20" y2="318.20"/><line x1="93.30" y1="314.40" x2="99.50" y2="314.40"/><line x1="672.40" y1="314.40" x2="666.20" y2="314.40"/><line x1="93.30" y1="311.05" x2="99.50" y2="311.05"/><line x1="672.40" y1="311.05" x2="666.20" y2="311.05"/><line x1="93.30" y1="308.05" x2="112.80" y2="308.05"/><line x1="672.40" y1="308.05" x2="652.90" y2="308.05"/><line x1="93.30" y1="288.32" x2="99.50" y2="288.32"/><line x1="672.40" y1="288.32" x2="666.20" y2="288.32"/><line x1="93.30" y1="276.77" x2="99.50" y2="276.77"/><line x1="672.40" y1="276.77" x2="666.20" y2="276.77"/><line x1="93.30" y1="268.58" x2="99.50" y2="268.58"/><line x1="672.40" y1="268.58" x2="666.20" y2="268.58"/><line x1="93.30" y1="262.23" x2="99.50" y2="262.23"/><line x1="672.40" y1="262.23" x2="666.20" y2="262.23"/><line x1="93.30" y1="257.04" x2="99.50" y2="257.04"/><line x1="672.40" y1="257.04" x2="666.20" y2="257.04"/><line x1="93.30" y1="252.65" x2="99.50" y2="252.65"/><line x1="672.40" y1="252.65" x2="666.20" y2="252.65"/><line x1="93.30" y1="248.85" x2="99.50" y2="248.85"/><line x1="672.40" y1="248.85" x2="666.20" y2="248.85"/><line x1="93.30" y1="245.50" x2="99.50" y2="245.50"/><line x1="672.40" y1="245.50" x2="666.20" y2="245.50"/><line x1="93.30" y1="242.50" x2="112.80" y2="242.50"/><line x1="672.40" y1="242.50" x2="652.90" y2="242.50"/><line x1="93.30" y1="222.77" x2="99.50" y2="222.77"/><line x1="672.40" y1="222.77" x2="666.20" y2="222.77"/><line x1="93.30" y1="211.22" x2="99.50" y2="211.22"/><line x1="672.40" y1="211.22" x2="666.20" y2="211.22"/><line x1="93.30" y1="203.03" x2="99.50" y2="203.03"/><line x1="672.40" y1="203.03" x2="666.20" y2="203.03"/><line x1="93.30" y1="196.68" x2="99.50" y2="196.68"/><line x1="672.40" y1="196.68" x2="666.20" y2="196.68"/><line x1="93.30" y1="191.49" x2="99.50" y2="191.49"/><line x1="672.40" y1="191.49" x2="666.20" y2="191.49"/><line x1="93.30" y1="187.10" x2="99.50" y2="187.10"/><line x1="672.40" y1="187.10" x2="666.20" y2="187.10"/><line x1="93.30" y1="183.30" x2="99.50" y2="183.30"/><line x1="672.40" y1="183.30" x2="666.20" y2="183.30"/><line x1="93.30" y1="179.95" x2="99.50" y2="179.95"/><line x1="672.40" y1="179.95" x2="666.20" y2="179.95"/><line x1="93.30" y1="176.95" x2="112.80" y2="176.95"/><line x1="672.40" y1="176.95" x2="652.90" y2="176.95"/><line x1="93.30" y1="157.21" x2="99.50" y2="157.21"/><line x1="672.40" y1="157.21" x2="666.20" y2="157.21"/><line x1="93.30" y1="145.67" x2="99.50" y2="145.67"/><line x1="672.40" y1="145.67" x2="666.20" y2="145.67"/><line x1="93.30" y1="137.48" x2="99.50" y2="137.48"/><line x1="672.40" y1="137.48" x2="666.20" y2="137.48"/><line x1="93.30" y1="131.13" x2="99.50" y2="131.13"/><line x1="672.40" y1="131.13" x2="666.20" y2="131.13"/><line x1="93.30" y1="125.94" x2="99.50" y2="125.94"/><line x1="672.40" y1="125.94" x2="666.20" y2="125.94"/><line x1="93.30" y1="121.55" x2="99.50" y2="121.55"/><line x1="672.40" y1="121.55" x2="666.20" y2="121.55"/><line x1="93.30" y1="117.75" x2="99.50" y2="117.75"/><line x1="672.40" y1="117.75" x2="666.20" y2="117.75"/><line x1="93.30" y1="114.40" x2="99.50" y2="114.40"/><line x1="672.40" y1="114.40" x2="666.20" y2="114.40"/><line x1="93.30" y1="111.40" x2="112.80" y2="111.40"/><line x1="672.40" y1="111.40" x2="652.90" y2="111.40"/><line x1="93.30" y1="91.66" x2="99.50" y2="91.66"/><line x1="672.40" y1="91.66" x2="666.20" y2="91.66"/><line x1="93.30" y1="80.12" x2="99.50" y2="80.12"/><line x1="672.40" y1="80.12" x2="666.20" y2="80.12"/><line x1="93.30" y1="71.93" x2="99.50" y2="71.93"/><line x1="672.40" y1="71.93" x2="666.20" y2="71.93"/><line x1="93.30" y1="65.58" x2="99.50" y2="65.58"/><line x1="672.40" y1="65.58" x2="666.20" y2="65.58"/><line x1="93.30" y1="60.39" x2="99.50" y2="60.39"/><line x1="672.40" y1="60.39" x2="666.20" y2="60.39"/><line x1="93.30" y1="56.00" x2="99.50" y2="56.00"/><line x1="672.40" y1="56.00" x2="666.20" y2="56.00"/></g>
<rect x="93.3" y="56.0" width="579.1" height="448.7" fill="none" stroke="#000" stroke-width="1.5"/>
<g font-size="20.75"><text x="94.1" y="524.4" text-anchor="middle">0</text><text x="209.9" y="524.4" text-anchor="middle">10</text><text x="325.7" y="524.4" text-anchor="middle">20</text><text x="441.6" y="524.4" text-anchor="middle">30</text><text x="557.4" y="524.4" text-anchor="middle">40</text><text x="673.2" y="524.4" text-anchor="middle">50</text><text x="71.0" y="513.3" text-anchor="end" textLength="20.0" lengthAdjust="spacingAndGlyphs">10</text><text x="83.5" y="504.7" font-size="14" text-anchor="end">-3</text><text x="71.0" y="447.7" text-anchor="end" textLength="20.0" lengthAdjust="spacingAndGlyphs">10</text><text x="83.5" y="439.1" font-size="14" text-anchor="end">-2</text><text x="71.0" y="382.2" text-anchor="end" textLength="20.0" lengthAdjust="spacingAndGlyphs">10</text><text x="83.5" y="373.6" font-size="14" text-anchor="end">-1</text><text x="76.4" y="316.6" text-anchor="end" textLength="20.0" lengthAdjust="spacingAndGlyphs">10</text><text x="83.5" y="308.0" font-size="14" text-anchor="end">0</text><text x="76.4" y="251.1" text-anchor="end" textLength="20.0" lengthAdjust="spacingAndGlyphs">10</text><text x="83.5" y="242.5" font-size="14" text-anchor="end">1</text><text x="76.4" y="185.5" text-anchor="end" textLength="20.0" lengthAdjust="spacingAndGlyphs">10</text><text x="83.5" y="176.9" font-size="14" text-anchor="end">2</text><text x="76.4" y="120.0" text-anchor="end" textLength="20.0" lengthAdjust="spacingAndGlyphs">10</text><text x="83.5" y="111.4" font-size="14" text-anchor="end">3</text></g>
<!-- legend -->
<g fill="none">
<line x1="115.8" y1="80.9" x2="160.9" y2="80.9" stroke="#ff0000" stroke-width="2.7" stroke-dasharray="7.8 5.2"/>
<line x1="115.8" y1="113.6" x2="160.9" y2="113.6" stroke="#008000" stroke-width="2.7" stroke-dasharray="2.9 3.55"/>
<line x1="115.8" y1="143.9" x2="160.9" y2="143.9" stroke="#0000ff" stroke-width="2.7" stroke-dasharray="7.8 5.2 2.9 5.0"/>
<line x1="256.4" y1="80.9" x2="301.5" y2="80.9" stroke="#bf00bf" stroke-width="2.7" stroke-dasharray="10.4 5.0 2.9 5.0 2.9 5.0"/>
<line x1="255.8" y1="111" x2="302.1" y2="111" stroke="#000" stroke-width="1.4"/>
</g>
<g><text x="181.0" y="86.1" font-style="italic" font-size="21.6">t</text><text x="188.6" y="91.5" font-size="13.6" textLength="23.8" lengthAdjust="spacingAndGlyphs">dyn</text><text x="181.0" y="119.1" font-style="italic" font-size="21.6">t</text><text x="188.6" y="124.5" font-size="13.6" textLength="12.4" lengthAdjust="spacingAndGlyphs">cs</text><text x="181.0" y="149.1" font-style="italic" font-size="21.6">t</text><text x="188.6" y="154.5" font-size="13.6" textLength="20.5" lengthAdjust="spacingAndGlyphs">acc</text><text x="321.6" y="86.1" font-style="italic" font-size="21.6">t</text><text x="329.2" y="91.5" font-size="13.6" textLength="17.5" lengthAdjust="spacingAndGlyphs">vis</text><text x="321.6" y="116.1" font-style="italic" font-size="21.6">t</text><text x="329.2" y="121.5" font-size="13.6" textLength="20.0" lengthAdjust="spacingAndGlyphs">LT</text>
<text x="382.1" y="539.9" font-size="21.5" font-style="italic" text-anchor="middle">r</text></g>
<g transform="translate(38.0,322.8) rotate(-90)" font-size="20.75"><text x="3.05" y="0" text-anchor="middle" font-style="italic">t</text><text x="22.50" y="0" text-anchor="middle">1</text><text x="30.60" y="0" text-anchor="middle">2</text><text x="40.90" y="0" text-anchor="middle">.</text><text x="47.60" y="0" text-anchor="middle">5</text><text x="57.40" y="0" text-anchor="middle" font-style="italic">t</text><text x="62.0" y="5.4" font-size="13.6" textLength="21.0" lengthAdjust="spacingAndGlyphs">orb</text><line x1="9.2" y1="5.2" x2="16.1" y2="-16.0" stroke="#000" stroke-width="0.95"/></g>
</svg>
</body></html>
